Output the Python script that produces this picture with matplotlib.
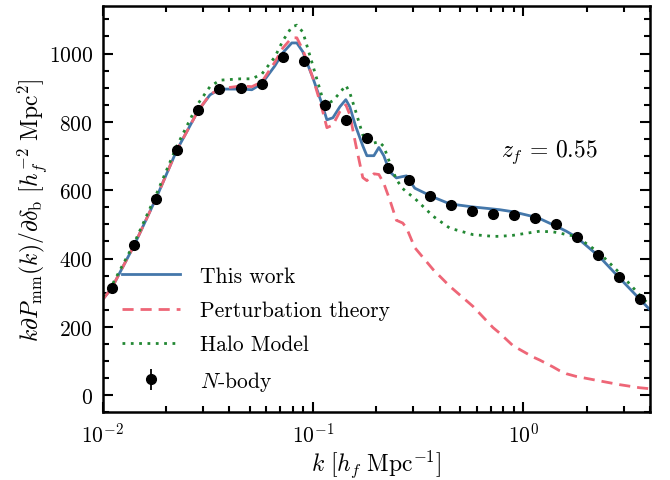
import numpy as np
import matplotlib
matplotlib.use("Agg")
import matplotlib.pyplot as plt
from matplotlib.ticker import MultipleLocator, LogLocator, NullFormatter

plt.rcParams.update({
    "font.family": "serif",
    "font.serif": ["cmr10"],
    "mathtext.fontset": "cm",
    "axes.formatter.use_mathtext": True,
    "axes.unicode_minus": False,
    "font.size": 15,
})

# Wavenumbers [h_f / Mpc] shared by the three model curves
k_model = [0.0100, 0.01107, 0.01409, 0.0179, 0.02254, 0.02838, 0.03236, 0.03606,
           0.04539, 0.05118, 0.05710, 0.06587, 0.07182, 0.07925, 0.08375, 0.08945,
           0.09979, 0.1102, 0.1164, 0.1243, 0.1341, 0.1432, 0.1496, 0.1597,
           0.1724, 0.1803, 0.1947, 0.2056, 0.2170, 0.2317, 0.2492, 0.2669,
           0.2782, 0.3046, 0.3722, 0.4468, 0.5763, 0.7174, 0.7708, 0.8929,
           1.111, 1.196, 1.382, 1.485, 1.600, 1.785, 2.304, 2.867, 3.568, 4.0]

this_work = [280, 315, 438, 575, 718, 832, 879, 896,
             896, 894, 912, 964, 1002, 1031, 1031, 1005,
             929, 853, 806, 812, 844, 865, 844, 786,
             730, 701, 701, 725, 701, 654, 636, 640,
             642, 606, 580, 560, 551, 545, 543, 537,
             523, 517, 499, 490, 480, 463, 405, 343, 282, 250]

perturbation = [280, 315, 438, 575, 718, 832, 880, 897,
                905, 903, 917, 975, 1016, 1046, 1046, 1011,
                929, 840, 783, 791, 830, 850, 821, 733,
                637, 628, 648, 646, 620, 572, 512, 504,
                490, 432, 368, 319, 260, 198, 182, 145,
                112, 103, 83, 72, 63, 55, 42, 31, 22, 19]

halo_model = [289, 322, 444, 585, 730, 853, 903, 922,
              926, 926, 940, 990, 1037, 1078, 1083, 1063,
              965, 875, 852, 862, 885, 907, 885, 830,
              762, 740, 738, 742, 728, 680, 631, 605,
              595, 576, 524, 489, 470, 465, 465, 468,
              477, 480, 478, 475, 470, 465, 416, 358, 294, 262]

# N-body measurements
k_nbody = [0.01107, 0.01409, 0.0179, 0.02254, 0.02838, 0.0357, 0.0454, 0.0572,
           0.0720, 0.0904, 0.1138, 0.1432, 0.1800, 0.2270, 0.2850, 0.3590,
           0.4520, 0.5690, 0.7160, 0.9000, 1.130, 1.430, 1.790, 2.270,
           2.850, 3.570]
p_nbody = [315, 439, 574, 717, 835, 896, 900, 912,
           989, 979, 848, 805, 754, 665, 631, 582,
           558, 540, 531, 527, 518, 501, 464, 411,
           346, 282]
err_nbody = [8, 7, 6, 6, 5, 5, 4, 4, 4, 4, 3, 3, 3, 3, 3, 3,
             2, 2, 2, 2, 2, 2, 2, 2, 2, 2]

fig = plt.figure(figsize=(6.7, 4.81), dpi=100)
ax = fig.add_axes([0.1533, 0.1407, 0.8168, 0.8454])

ax.plot(k_model, this_work, color="#4477AA", lw=2.0, label="This work")
ax.plot(k_model, perturbation, color="#EE6677", lw=2.0, ls=(0, (4, 2.5)),
        label="Perturbation theory")
ax.plot(k_model, halo_model, color="#228833", lw=2.0, ls=(0, (1, 2)),
        label="Halo Model")
ax.errorbar(k_nbody, p_nbody, yerr=err_nbody, fmt="o", color="black",
            ms=7, elinewidth=1.3, capsize=0, label=r"$N$-body", zorder=5)

ax.set_xscale("log")
ax.set_xlim(0.01, 4.0)
ax.set_ylim(-50, 1140)

ax.yaxis.set_major_locator(MultipleLocator(200))
ax.yaxis.set_minor_locator(MultipleLocator(50))
ax.xaxis.set_minor_locator(LogLocator(base=10, subs=np.arange(2, 10)))
ax.xaxis.set_minor_formatter(NullFormatter())

ax.tick_params(which="both", direction="in", top=True, right=True, width=1.5)
ax.tick_params(which="major", length=7, labelsize=15.5, pad=7)
ax.tick_params(which="minor", length=4)
for sp in ax.spines.values():
    sp.set_linewidth(1.8)

ax.set_xlabel(r"$k\ [h_f\ \mathrm{Mpc}^{-1}]$", fontsize=17, labelpad=1)
ax.set_ylabel(r"$k\partial P_\mathrm{mm}(k)/\partial\delta_\mathrm{b}\ [h_f^{-2}\ \mathrm{Mpc}^2]$",
              fontsize=17, labelpad=-1)

ax.text(0.817, 0.643, r"$z_f\,=\,0.55$", transform=ax.transAxes,
        ha="center", va="center", fontsize=17)

ax.legend(loc="lower left", frameon=False, fontsize=15.5, handlelength=2.7,
          borderaxespad=0.5, labelspacing=0.68, handletextpad=0.9)

fig.savefig("out.png", dpi=100)
